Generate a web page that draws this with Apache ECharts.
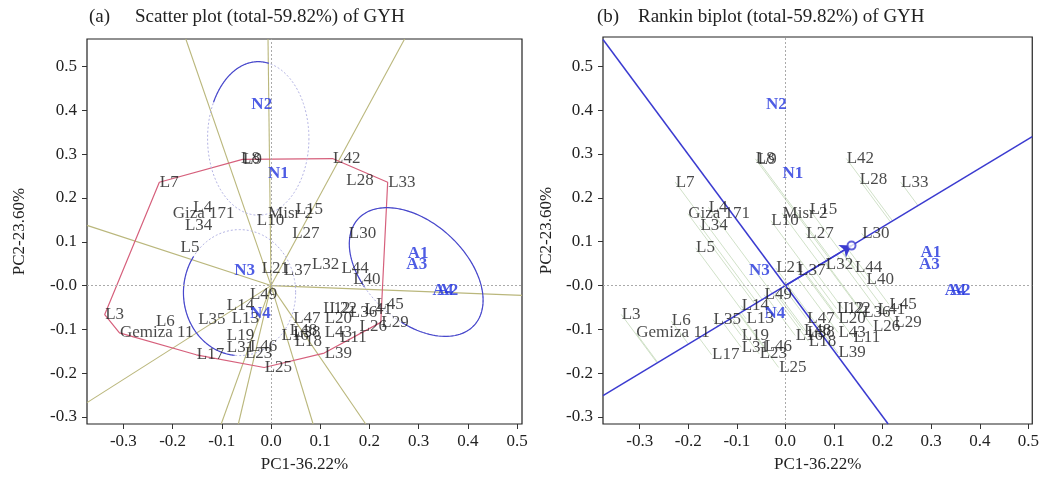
<!DOCTYPE html>
<html>
<head>
<meta charset="utf-8">
<script src="https://cdn.jsdelivr.net/npm/echarts@6/dist/echarts.min.js"></script>
<style>
  html, body { margin: 0; padding: 0; background: #fff; }
  #main { width: 1042px; height: 482px; }
</style>
</head>
<body>
<div id="main"></div>
<script>
// genotype scores (PC1, PC2)
var genotypeNames = ['L8', 'L9', 'L42', 'L7', 'L28', 'L33', 'L4', 'Giza 171', 'L34', 'L5',
  'L10', 'Misr 2', 'L15', 'L27', 'L30', 'L21', 'L37', 'L32', 'L44', 'L40',
  'L49', 'L14', 'L13', 'L35', 'L6', 'Gemiza 11', 'L3', 'L19', 'L31', 'L46',
  'L23', 'L17', 'L25', 'L39', 'L47', 'L20', 'L12', 'L22', 'L36', 'L41',
  'L45', 'L29', 'L26', 'L43', 'L11', 'L16', 'L38', 'L48', 'L18'];
var genotypePC1 = [-0.062, -0.058, 0.125, -0.227, 0.152, 0.237, -0.159, -0.201, -0.176, -0.185,
  -0.030, -0.007, 0.049, 0.042, 0.157, -0.020, 0.025, 0.082, 0.142, 0.166,
  -0.044, -0.091, -0.081, -0.149, -0.235, -0.308, -0.338, -0.091, -0.091, -0.044,
  -0.054, -0.152, -0.014, 0.108, 0.044, 0.108, 0.105, 0.118, 0.159, 0.189,
  0.213, 0.223, 0.179, 0.108, 0.139, 0.020, 0.044, 0.037, 0.047];
var genotypePC2 = [0.289, 0.288, 0.290, 0.236, 0.241, 0.236, 0.179, 0.164, 0.137, 0.086,
  0.148, 0.165, 0.174, 0.119, 0.119, 0.040, 0.034, 0.048, 0.040, 0.013,
  -0.021, -0.046, -0.076, -0.078, -0.081, -0.108, -0.066, -0.114, -0.141, -0.139,
  -0.156, -0.158, -0.187, -0.154, -0.076, -0.076, -0.053, -0.053, -0.061, -0.055,
  -0.043, -0.084, -0.094, -0.107, -0.118, -0.114, -0.107, -0.103, -0.127];

// environment scores
var envNames = ['N1', 'N2', 'N3', 'N4', 'A1', 'A2', 'A3', 'A4'];
var envPC1 = [-0.007, -0.041, -0.076, -0.044, 0.277, 0.337, 0.274, 0.327];
var envPC2 = [0.256, 0.413, 0.034, -0.063, 0.074, -0.011, 0.048, -0.011];

// average environment marker of the ranking biplot
var aecPoint = [0.136, 0.091];

// vertex genotypes of the polygon, in drawing order
var hullNames = ['L9', 'L42', 'L33', 'L29', 'L39', 'L25', 'L17', 'Gemiza 11', 'L3', 'L7'];

var tickValues = [-0.3, -0.2, -0.1, 0, 0.1, 0.2, 0.3, 0.4, 0.5];

var xRangeA = [-0.374, 0.51], yRangeA = [-0.316, 0.563];
var xRangeB = [-0.3755, 0.508], yRangeB = [-0.316, 0.567];

var serif = 'Liberation Serif';

function pointOf(name) {
  var i = genotypeNames.indexOf(name);
  return [genotypePC1[i], genotypePC2[i]];
}
var genoData = genotypeNames.map(function (n, i) {
  return { name: n, value: [genotypePC1[i], genotypePC2[i]] };
});
var envData = envNames.map(function (n, i) {
  return { name: n, value: [envPC1[i], envPC2[i]] };
});

// ray from origin along (dx,dy) until it meets the plot frame
function toFrame(dx, dy, xr, yr) {
  var t = Infinity;
  if (dx > 0) t = Math.min(t, xr[1] / dx); else if (dx < 0) t = Math.min(t, xr[0] / dx);
  if (dy > 0) t = Math.min(t, yr[1] / dy); else if (dy < 0) t = Math.min(t, yr[0] / dy);
  return [dx * t, dy * t];
}

// polygon + sector lines (perpendicular to each side)
var hull = hullNames.map(pointOf);
hull.push(hull[0]);
var rays = [];
for (var k = 0; k < hull.length - 1; k++) {
  var p = hull[k], q = hull[k + 1];
  var d = [q[0] - p[0], q[1] - p[1]];
  var s = -(p[0] * d[0] + p[1] * d[1]) / (d[0] * d[0] + d[1] * d[1]);
  var f = [p[0] + s * d[0], p[1] + s * d[1]];
  rays.push({ coords: [[0, 0], toFrame(f[0], f[1], xRangeA, yRangeA)] });
}

// average environment axis + its perpendicular
var mx = aecPoint[0], my = aecPoint[1];
var aecLines = [
  { coords: [toFrame(-mx, -my, xRangeB, yRangeB), toFrame(mx, my, xRangeB, yRangeB)] },
  { coords: [toFrame(my, -mx, xRangeB, yRangeB), toFrame(-my, mx, xRangeB, yRangeB)] }
];
var len2 = mx * mx + my * my;
var projLines = genotypeNames.map(function (n, i) {
  var g = [genotypePC1[i], genotypePC2[i]];
  var s = (g[0] * mx + g[1] * my) / len2;
  return { coords: [g, [s * mx, s * my]] };
});

// outline ellipses round the environment groups: centre, semi axes, tilt, solid arc
var ellipses = [
  [-0.026, 0.336, 0.103, 0.156, 0, 208, 282],
  [-0.064, -0.016, 0.114, 0.128, 0, 95, 215],
  [0.295, 0.031, 0.160, 0.100, 42.5, 111, 433]
];

function axesFor(idx, xr, yr) {
  return {
    x: {
      type: 'value', gridIndex: idx, min: xr[0], max: xr[1],
      name: 'PC1-36.22%', nameLocation: 'middle', nameGap: 32,
      nameTextStyle: { fontFamily: serif, fontSize: 17, color: '#222' },
      axisLine: { show: false, onZero: false },
      axisTick: { show: true, length: 5, customValues: tickValues, lineStyle: { color: '#333' } },
      axisLabel: {
        customValues: tickValues, margin: 9, fontFamily: serif, fontSize: 17, color: '#222',
        formatter: function (v) { return v.toFixed(1); }
      },
      splitLine: { show: false }
    },
    y: {
      type: 'value', gridIndex: idx, min: yr[0], max: yr[1],
      name: 'PC2-23.60%', nameLocation: 'middle', nameGap: idx === 0 ? 59 : 48,
      nameTextStyle: { fontFamily: serif, fontSize: 17, color: '#222' },
      axisLine: { show: false, onZero: false },
      axisTick: { show: true, length: 5, customValues: tickValues, lineStyle: { color: '#333' } },
      axisLabel: {
        customValues: tickValues, margin: 10, fontFamily: serif, fontSize: 17, color: '#222',
        formatter: function (v) { return Math.abs(v) < 1e-9 ? '-0.0' : v.toFixed(1); }
      },
      splitLine: { show: false }
    }
  };
}
var axA = axesFor(0, xRangeA, yRangeA);
var axB = axesFor(1, xRangeB, yRangeB);

function zeroLines() {
  return {
    silent: true, symbol: ['none', 'none'], label: { show: false },
    lineStyle: { type: [2, 2], color: '#aaa', width: 1 },
    data: [{ xAxis: 0 }, { yAxis: 0 }]
  };
}

function labelSeries(idx) {
  return [{
    type: 'scatter', xAxisIndex: idx, yAxisIndex: idx, data: genoData,
    symbolSize: 1, itemStyle: { color: 'rgba(0,0,0,0)' }, silent: true, z: 5,
    label: {
      show: true, position: 'right', distance: 0, formatter: '{b}',
      fontFamily: serif, fontSize: 17, color: '#1a1a1a'
    },
    markLine: zeroLines()
  }, {
    type: 'scatter', xAxisIndex: idx, yAxisIndex: idx, data: envData,
    symbolSize: 1, itemStyle: { color: 'rgba(0,0,0,0)' }, silent: true, z: 6,
    label: {
      show: true, position: 'right', distance: 0, formatter: '{b}',
      fontFamily: serif, fontSize: 17, fontWeight: 'bold', color: '#2233dd'
    }
  }];
}

var series = [
  {
    type: 'lines', coordinateSystem: 'cartesian2d', xAxisIndex: 0, yAxisIndex: 0,
    data: rays, silent: true, z: 1,
    lineStyle: { color: '#bab77c', width: 1.1, opacity: 1 }
  },
  {
    type: 'line', xAxisIndex: 0, yAxisIndex: 0, data: hull, symbol: 'none', silent: true, z: 2,
    lineStyle: { color: '#d6607c', width: 1.2 }
  },
  {
    type: 'custom', xAxisIndex: 0, yAxisIndex: 0, data: ellipses, silent: true, z: 3,
    renderItem: function (params, api) {
      var c = api.coord([api.value(0), api.value(1)]);
      var unit = api.size([1, 1]);
      var a = api.value(2) * unit[0], b = api.value(3) * unit[0];
      var tilt = api.value(4) * Math.PI / 180;
      function ring(t0, t1) {
        var pts = [];
        for (var j = 0; j <= 120; j++) {
          var t = (t0 + (t1 - t0) * j / 120) * Math.PI / 180;
          var lx = a * Math.cos(t), ly = b * Math.sin(t);
          pts.push([c[0] + lx * Math.cos(tilt) - ly * Math.sin(tilt),
            c[1] + lx * Math.sin(tilt) + ly * Math.cos(tilt)]);
        }
        return pts;
      }
      return {
        type: 'group', children: [
          { type: 'polyline', shape: { points: ring(0, 360) },
            style: { stroke: '#b4b4e4', fill: null, lineWidth: 1, lineDash: [2, 2] } },
          { type: 'polyline', shape: { points: ring(api.value(5), api.value(6)) },
            style: { stroke: '#4848cc', fill: null, lineWidth: 1.2 } }
        ]
      };
    }
  }
].concat(labelSeries(0)).concat([
  {
    type: 'lines', coordinateSystem: 'cartesian2d', xAxisIndex: 1, yAxisIndex: 1,
    data: projLines, silent: true, z: 1,
    lineStyle: { color: '#c8dcbe', width: 1, opacity: 0.85 }
  },
  {
    type: 'lines', coordinateSystem: 'cartesian2d', xAxisIndex: 1, yAxisIndex: 1,
    data: aecLines, silent: true, z: 2,
    lineStyle: { color: '#3b3bd0', width: 1.5, opacity: 1 }
  },
  {
    type: 'lines', coordinateSystem: 'cartesian2d', xAxisIndex: 1, yAxisIndex: 1,
    data: [{ coords: [[0, 0], [mx, my]] }], silent: true, z: 3,
    symbol: ['none', 'arrow'], symbolSize: 11,
    lineStyle: { color: '#3b3bd0', width: 1.5, opacity: 1 }
  },
  {
    type: 'scatter', xAxisIndex: 1, yAxisIndex: 1, data: [aecPoint], silent: true, z: 3,
    symbol: 'emptyCircle', symbolSize: 8,
    itemStyle: { color: '#3b3bd0', borderColor: '#3b3bd0', borderWidth: 1 }
  }
]).concat(labelSeries(1));

var titleStyle = { fontFamily: serif, fontSize: 19, fontWeight: 'normal', color: '#222' };

var chart = echarts.init(document.getElementById('main'), null, { renderer: 'canvas' });
chart.setOption({
  animation: false,
  backgroundColor: '#fff',
  title: [
    { text: '(a)', left: 84, top: 3, textStyle: titleStyle },
    { text: 'Scatter plot (total-59.82%) of GYH', left: 130, top: 3, textStyle: titleStyle },
    { text: '(b)', left: 592, top: 3, textStyle: titleStyle },
    { text: 'Rankin biplot (total-59.82%) of GYH', left: 633, top: 3, textStyle: titleStyle }
  ],
  grid: [
    { left: 87, top: 39, width: 435, height: 385, show: true, borderColor: '#222', borderWidth: 1.2, backgroundColor: '#fff' },
    { left: 603, top: 37, width: 433, height: 387, show: true, borderColor: '#222', borderWidth: 1.2, backgroundColor: '#fff' }
  ],
  xAxis: [axA.x, axB.x],
  yAxis: [axA.y, axB.y],
  series: series
});
</script>
</body>
</html>
